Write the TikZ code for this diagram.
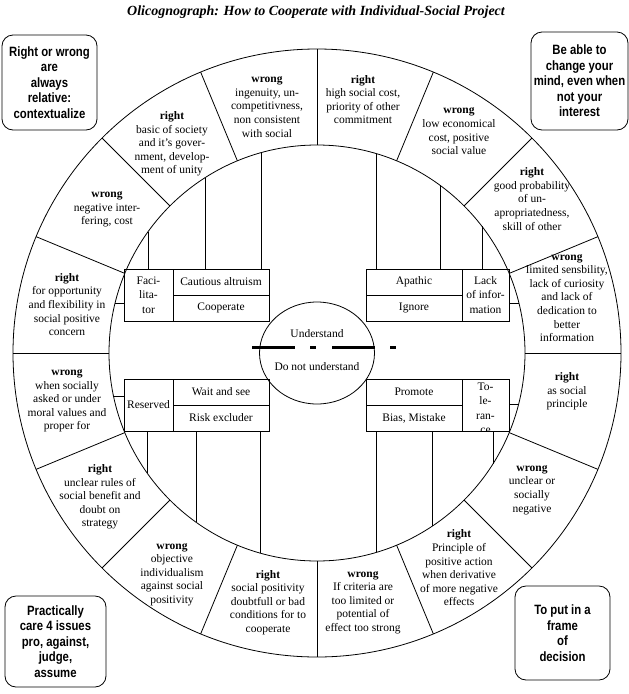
\documentclass[tikz,border=0pt]{standalone}
\usepackage{fontspec}
\setmainfont{Liberation Serif}
\newfontfamily\notefont[FakeStretch=0.84]{Liberation Sans}
\begin{document}
\begin{tikzpicture}[x=1pt,y=-1pt,line width=0.8pt,
    seg/.style={align=center,inner sep=0pt,font=\fontsize{11.5}{13.6}\selectfont},
    cell/.style={draw,align=center,inner sep=0pt,font=\fontsize{11.5}{14.3}\selectfont},
    note/.style={draw,rounded corners=11pt,align=center,inner sep=0pt,
        font=\notefont\bfseries\fontsize{13.5}{15.5}\selectfont}]
    \useasboundingbox (0,0) rectangle (629,694);
    \node[font=\bfseries\itshape\fontsize{14}{16}\selectfont] (title) at (316,12)
        {Olicognograph: How to Cooperate with Individual-Social Project};
    % ring of 16 sectors
    \coordinate (c) at (317,353);
    \draw (c) circle[radius=304];
    \draw (c) circle[radius=208];
    \foreach \a in {0,22.5,...,337.5}
        \draw[shift={(c)}] (\a:208) -- (\a:304);
    % centre
    \draw (c) ellipse[x radius=57.5, y radius=51];
    \node[seg] (und) at (317,334) {Understand};
    \node[seg] (notund) at (317,367) {Do not understand};
    \draw[line width=3pt, dash pattern=on 43pt off 15pt on 6pt off 16pt] (252,347) -- (396,347);
    % top left box
    \node[cell,minimum width=49pt,minimum height=52pt] (faci) at (148.5,295) {Faci-\\lita-\\tor};
    \node[cell,minimum width=96pt,minimum height=26pt] (caut) at (221,282) {Cautious altruism};
    \node[cell,minimum width=96pt,minimum height=26pt] (coop) at (221,308) {Cooperate};
    % top right box
    \node[cell,minimum width=96pt,minimum height=26pt] (apat) at (414,282) {Apathic};
    \node[cell,minimum width=96pt,minimum height=26pt] (ign) at (414,308) {Ignore};
    \node[cell,minimum width=47pt,minimum height=52pt] (lack) at (485.5,295) {Lack\\of infor-\\mation};
    % bottom left box
    \node[cell,minimum width=49pt,minimum height=52pt] (res) at (148.5,405) {Reserved};
    \node[cell,minimum width=96pt,minimum height=26pt] (wait) at (221,392) {Wait and see};
    \node[cell,minimum width=96pt,minimum height=26pt] (risk) at (221,418) {Risk excluder};
    % bottom right box
    \node[cell,minimum width=96pt,minimum height=26pt] (prom) at (414,392) {Promote};
    \node[cell,minimum width=96pt,minimum height=26pt] (bias) at (414,418) {Bias, Mistake};
    \node[cell,minimum width=47pt,minimum height=52pt] (tole) at (485.5,405) {};
    \begin{scope}
        \clip (tole.south west) rectangle (tole.north east);
        \node[seg,font=\fontsize{11.5}{14.3}\selectfont,anchor=north] (toletext) at (485.5,382.5) {To-\\le-\\ran-\\ce};
    \end{scope}
    % lines to the inner circle
    \foreach \x in {148,205,261}
        \draw (\x,269) -- (\x,{353-208*sqrt(1-((\x-317)/208)^2)});
    \foreach \x in {376,440,482}
        \draw (\x,269) -- (\x,{353-208*sqrt(1-((\x-317)/208)^2)});
    \foreach \x in {147,196,260}
        \draw (\x,431) -- (\x,{353+208*sqrt(1-((\x-317)/208)^2)});
    \foreach \x in {376,432,493}
        \draw (\x,431) -- (\x,{353+208*sqrt(1-((\x-317)/208)^2)});
    \draw ([yshift=-8pt]faci.west) -- (115,303);
    \draw ([yshift=-8pt]lack.east) -- (519,303);
    \draw ([yshift=9pt]res.west) -- (113.5,396);
    \draw ([yshift=1pt]tole.east) -- (518.6,404);
    % sectors, clockwise from the top
    \node[seg] (s1) at (363,99.5) {\textbf{right}\\high social cost,\\priority of other\\commitment};
    \node[seg] (s2) at (459,131.5) {\textbf{wrong}\\low economical\\cost, positive\\social value};
    \node[seg] (s3) at (532,199) {\textbf{right}\\good probability\\of un-\\apropriatedness,\\skill of other};
    \node[seg] (s4) at (567,298) {\textbf{wrong}\\limited sensbility,\\lack of curiosity\\and lack of\\dedication to\\better\\information};
    \node[seg] (s5) at (567,391.5) {\textbf{right}\\as social\\principle};
    \node[seg] (s6) at (532,490) {\textbf{wrong}\\unclear or\\socially\\negative};
    \node[seg] (s7) at (459,568) {\textbf{right}\\Principle of\\positive action\\when derivative\\of more negative\\effects};
    \node[seg] (s8) at (363,602.5) {\textbf{wrong}\\If criteria are\\too limited or\\potential of\\effect too strong};
    \node[seg] (s9) at (268,602.5) {\textbf{right}\\social positivity\\doubtfull or bad\\conditions for to\\cooperate};
    \node[seg] (s10) at (172,574.5) {\textbf{wrong}\\objective\\individualism\\against social\\positivity};
    \node[seg] (s11) at (100,497) {\textbf{right}\\unclear rules of\\social benefit and\\doubt on\\strategy};
    \node[seg] (s12) at (67,401) {\textbf{wrong}\\when socially\\asked or under\\moral values and\\proper for};
    \node[seg] (s13) at (67,304.5) {\textbf{right}\\for opportunity\\and flexibility in\\social positive\\concern};
    \node[seg] (s14) at (107,209.5) {\textbf{wrong}\\negative inter-\\fering, cost};
    \node[seg] (s15) at (172,144) {\textbf{right}\\basic of society\\and it's gover-\\nment, develop-\\ment of unity};
    \node[seg] (s16) at (267,107) {\textbf{wrong}\\ingenuity, un-\\competitivness,\\non consistent\\with social};
    % corner notes
    \node[note,minimum width=95pt,minimum height=95pt] (relative) at (49.5,82.5)
        {Right or wrong\\are\\always\\relative:\\contextualize};
    \node[note,minimum width=97pt,minimum height=98pt] (change) at (579.5,81)
        {Be able to\\change your\\mind, even when\\not your\\interest};
    \node[note,minimum width=101pt,minimum height=91pt] (issues) at (55.5,641.5)
        {Practically\\care 4 issues\\pro, against,\\judge,\\assume};
    \node[note,minimum width=95pt,minimum height=94pt] (frame) at (562.5,633)
        {To put in a\\frame\\of\\decision};
\end{tikzpicture}
\end{document}
